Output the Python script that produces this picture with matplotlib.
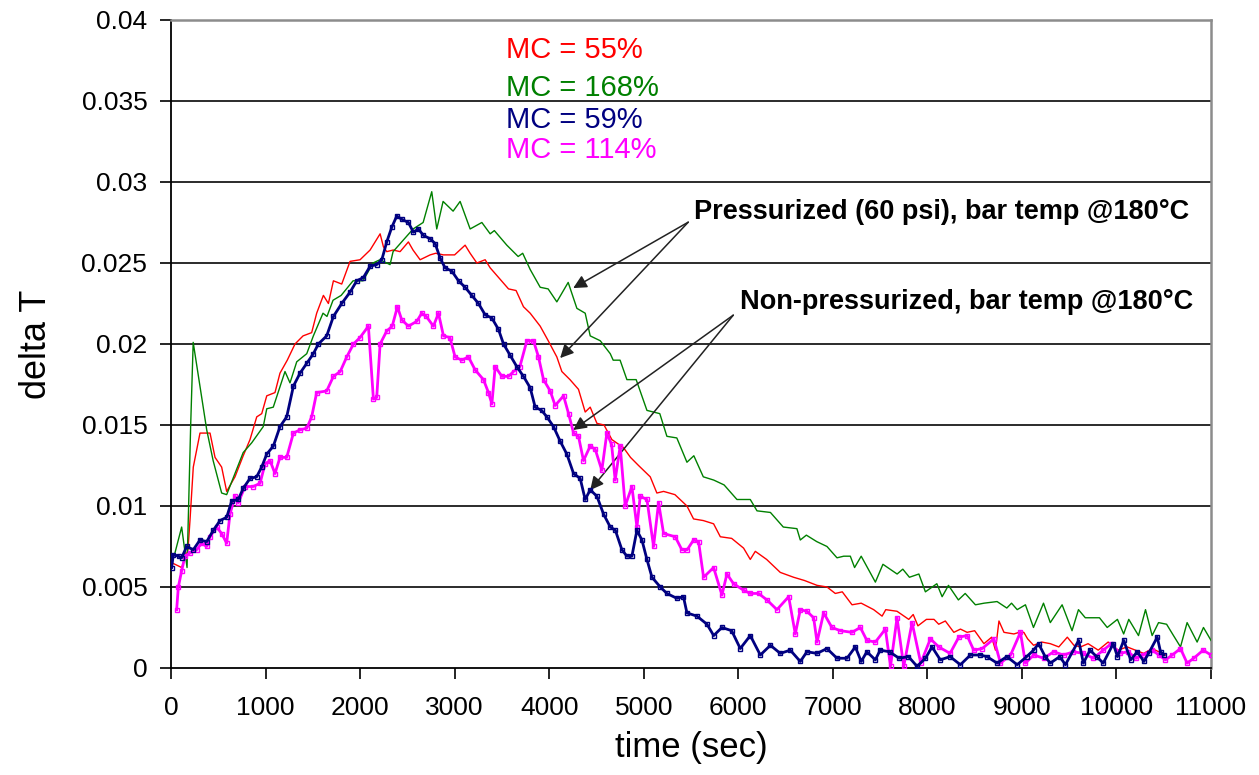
import matplotlib
matplotlib.use("Agg")
import matplotlib.pyplot as plt

plt.rcParams['font.family'] = ['Liberation Sans', 'DejaVu Sans']

# MC = 55% (pressurized)
t_55 = [7, 113, 180, 201, 236, 307, 413, 466, 536, 589, 677, 764, 836, 907, 960,
        1013, 1100, 1153, 1230, 1312, 1397, 1488, 1541, 1612, 1665, 1718, 1806, 1894,
        2000, 2106, 2212, 2247, 2282, 2350, 2423, 2511, 2560, 2635, 2741, 2800, 2882,
        3000, 3111, 3164, 3235, 3323, 3376, 3481, 3570, 3650, 3728, 3799, 3905, 3990,
        4081, 4134, 4220, 4310, 4381, 4434, 4505, 4580, 4663, 4786, 4860, 4945, 5069,
        5139, 5210, 5330, 5457, 5527, 5630, 5739, 5810, 5930, 6056, 6127, 6180, 6300,
        6444, 6585, 6700, 6833, 6938, 7026, 7100, 7203, 7300, 7432, 7521, 7560, 7679,
        7803, 7850, 7900, 7990, 8070, 8120, 8190, 8280, 8350, 8420, 8500, 8598, 8680,
        8720, 8757, 8810, 8915, 8970, 9020, 9060, 9123, 9210, 9300, 9390, 9480, 9550,
        9620, 9700, 9807, 9912, 10018, 10112, 10200, 10288, 10377, 10483, 10518]
v_55 = [0.0065, 0.0062, 0.0073, 0.0091, 0.0124, 0.0145, 0.0145, 0.0130, 0.0124, 0.0109,
        0.0118, 0.0131, 0.0141, 0.0155, 0.0157, 0.0168, 0.0170, 0.0182, 0.0190, 0.0200,
        0.0205, 0.0207, 0.0219, 0.0230, 0.0225, 0.0239, 0.0237, 0.0251, 0.0252, 0.0258,
        0.0268, 0.0260, 0.0257, 0.0258, 0.0257, 0.0263, 0.0258, 0.0252, 0.0255, 0.0256,
        0.0255, 0.0255, 0.0261, 0.0256, 0.0250, 0.0252, 0.0247, 0.0240, 0.0234, 0.0233,
        0.0223, 0.0219, 0.0211, 0.0202, 0.0192, 0.0183, 0.0178, 0.0172, 0.0158, 0.0161,
        0.0151, 0.0150, 0.0141, 0.0136, 0.0130, 0.0125, 0.0118, 0.0108, 0.0109, 0.0107,
        0.0100, 0.0092, 0.0091, 0.0089, 0.0081, 0.0080, 0.0074, 0.0067, 0.0072, 0.0067,
        0.0059, 0.0056, 0.0054, 0.0051, 0.0050, 0.0046, 0.0047, 0.0039, 0.0040, 0.0036,
        0.0032, 0.0036, 0.0035, 0.0030, 0.0033, 0.0026, 0.0030, 0.0030, 0.0027, 0.0029,
        0.0022, 0.0024, 0.0022, 0.0023, 0.0015, 0.0019, 0.0011, 0.0029, 0.0022, 0.0021,
        0.0022, 0.0022, 0.0018, 0.0014, 0.0016, 0.0015, 0.0013, 0.0019, 0.0014, 0.0013,
        0.0015, 0.0011, 0.0016, 0.0011, 0.0013, 0.0011, 0.0009, 0.0012, 0.0009, 0.0008]

# MC = 168% (pressurized)
t_168 = [42, 113, 170, 208, 235, 378, 446, 536, 589, 764, 854, 976, 1013, 1082, 1206,
         1259, 1330, 1436, 1506, 1608, 1650, 1714, 1800, 1926, 2032, 2137, 2210, 2317,
         2349, 2455, 2561, 2667, 2758, 2811, 2878, 2984, 3058, 3164, 3288, 3376, 3420,
         3552, 3672, 3720, 3799, 3905, 3989, 4081, 4201, 4293, 4381, 4434, 4540, 4646,
         4677, 4750, 4822, 4920, 5034, 5170, 5245, 5350, 5457, 5530, 5630, 5740, 5850,
         5986, 6127, 6198, 6340, 6476, 6620, 6656, 6720, 6830, 6938, 7044, 7115, 7185,
         7230, 7300, 7450, 7530, 7680, 7740, 7810, 7910, 7979, 8100, 8156, 8223, 8328,
         8400, 8508, 8600, 8737, 8840, 8890, 8950, 9037, 9122, 9228, 9300, 9425, 9530,
         9598, 9670, 9820, 9902, 10010, 10076, 10130, 10233, 10307, 10377, 10445, 10530,
         10603, 10677, 10747, 10853, 10920, 11000]
v_168 = [0.0071, 0.0087, 0.0062, 0.0149, 0.0201, 0.0147, 0.0128, 0.0108, 0.0107, 0.0133,
         0.0139, 0.0149, 0.0160, 0.0161, 0.0183, 0.0176, 0.0189, 0.0194, 0.0205, 0.0219,
         0.0217, 0.0227, 0.0230, 0.0239, 0.0239, 0.0250, 0.0252, 0.0249, 0.0257, 0.0264,
         0.0271, 0.0275, 0.0294, 0.0271, 0.0288, 0.0282, 0.0288, 0.0271, 0.0275, 0.0268,
         0.0270, 0.0261, 0.0254, 0.0256, 0.0246, 0.0235, 0.0234, 0.0226, 0.0238, 0.0222,
         0.0219, 0.0205, 0.0202, 0.0194, 0.0190, 0.0190, 0.0178, 0.0178, 0.0159, 0.0157,
         0.0143, 0.0142, 0.0127, 0.0131, 0.0118, 0.0116, 0.0113, 0.0104, 0.0104, 0.0097,
         0.0096, 0.0087, 0.0086, 0.0079, 0.0082, 0.0078, 0.0075, 0.0068, 0.0069, 0.0069,
         0.0062, 0.0069, 0.0053, 0.0064, 0.0058, 0.0061, 0.0056, 0.0058, 0.0047, 0.0052,
         0.0044, 0.0051, 0.0042, 0.0046, 0.0039, 0.0040, 0.0041, 0.0037, 0.0040, 0.0036,
         0.0039, 0.0025, 0.0040, 0.0028, 0.0039, 0.0023, 0.0036, 0.0031, 0.0031, 0.0025,
         0.0030, 0.0021, 0.0030, 0.0020, 0.0036, 0.0020, 0.0028, 0.0027, 0.0020, 0.0013,
         0.0028, 0.0016, 0.0025, 0.0017]

# MC = 59% (non-pressurized)
t_59 = [7, 25, 80, 113, 166, 236, 307, 378, 448, 519, 589, 642, 712, 765, 836, 906, 959,
        1013, 1083, 1153, 1224, 1295, 1365, 1436, 1506, 1559, 1647, 1718, 1806, 1894,
        1965, 2035, 2106, 2176, 2230, 2282, 2335, 2388, 2440, 2511, 2564, 2617, 2670,
        2740, 2794, 2847, 2899, 2970, 3041, 3111, 3182, 3252, 3323, 3394, 3464, 3517,
        3587, 3658, 3728, 3799, 3852, 3920, 3976, 4046, 4116, 4187, 4258, 4328, 4381,
        4434, 4505, 4575, 4646, 4700, 4769, 4822, 4875, 4928, 4981, 5034, 5087, 5175,
        5245, 5350, 5420, 5457, 5563, 5669, 5740, 5827, 5930, 6021, 6127, 6233, 6340,
        6444, 6550, 6656, 6726, 6833, 6938, 7044, 7150, 7238, 7300, 7360, 7450, 7500,
        7600, 7700, 7800, 7891, 7980, 8049, 8137, 8240, 8349, 8455, 8560, 8630, 8737,
        8840, 8950, 9050, 9123, 9176, 9246, 9300, 9400, 9460, 9600, 9650, 9720, 9790,
        9860, 9966, 10010, 10077, 10150, 10220, 10290, 10340, 10431, 10466, 10501]
v_59 = [0.0062, 0.0070, 0.0069, 0.0068, 0.0075, 0.0073, 0.0079, 0.0078, 0.0085, 0.0091,
        0.0093, 0.0103, 0.0104, 0.0111, 0.0117, 0.0118, 0.0124, 0.0132, 0.0137, 0.0149,
        0.0155, 0.0174, 0.0182, 0.0188, 0.0194, 0.0200, 0.0205, 0.0217, 0.0225, 0.0232,
        0.0239, 0.0241, 0.0248, 0.0249, 0.0252, 0.0263, 0.0272, 0.0279, 0.0277, 0.0275,
        0.0269, 0.0271, 0.0267, 0.0265, 0.0262, 0.0253, 0.0247, 0.0245, 0.0239, 0.0235,
        0.0230, 0.0225, 0.0218, 0.0216, 0.0209, 0.0200, 0.0193, 0.0186, 0.0180, 0.0173,
        0.0161, 0.0159, 0.0155, 0.0149, 0.0140, 0.0132, 0.0120, 0.0117, 0.0104, 0.0110,
        0.0106, 0.0095, 0.0087, 0.0085, 0.0073, 0.0069, 0.0069, 0.0085, 0.0079, 0.0067,
        0.0056, 0.0050, 0.0046, 0.0043, 0.0044, 0.0034, 0.0032, 0.0027, 0.0020, 0.0025,
        0.0023, 0.0012, 0.0020, 0.0008, 0.0014, 0.0009, 0.0011, 0.0004, 0.0010, 0.0009,
        0.0012, 0.0006, 0.0006, 0.0013, 0.0004, 0.0010, 0.0005, 0.0011, 0.0010, 0.0006,
        0.0007, 0.0001, 0.0006, 0.0013, 0.0005, 0.0007, 0.0002, 0.0008, 0.0008, 0.0007,
        0.0003, 0.0007, 0.0002, 0.0007, 0.0011, 0.0015, 0.0007, 0.0003, 0.0007, 0.0002,
        0.0017, 0.0003, 0.0011, 0.0007, 0.0003, 0.0015, 0.0007, 0.0017, 0.0005, 0.0010,
        0.0004, 0.0009, 0.0019, 0.0010, 0.0008]

# MC = 114% (non-pressurized)
t_114 = [60, 78, 113, 148, 201, 272, 325, 378, 413, 483, 536, 589, 624, 677, 712, 783,
         870, 942, 995, 1048, 1100, 1153, 1224, 1295, 1365, 1436, 1488, 1541, 1647, 1718,
         1790, 1859, 1930, 2000, 2088, 2141, 2176, 2212, 2282, 2340, 2395, 2440, 2511,
         2600, 2652, 2700, 2776, 2829, 2882, 2950, 3005, 3075, 3146, 3217, 3305, 3358,
         3394, 3429, 3500, 3570, 3623, 3690, 3764, 3834, 3887, 3940, 4011, 4063, 4152,
         4205, 4258, 4310, 4363, 4434, 4487, 4557, 4610, 4660, 4698, 4751, 4804, 4875,
         4928, 4963, 5034, 5104, 5157, 5210, 5333, 5403, 5460, 5527, 5580, 5633, 5739,
         5827, 5880, 5950, 6056, 6127, 6215, 6303, 6409, 6533, 6603, 6656, 6726, 6797,
         6833, 6903, 6990, 7080, 7203, 7291, 7360, 7450, 7556, 7610, 7679, 7750, 7838,
         7930, 8032, 8120, 8240, 8332, 8420, 8490, 8580, 8703, 8773, 8880, 8984, 9037,
         9125, 9230, 9336, 9440, 9545, 9650, 9755, 9860, 9945, 10033, 10120, 10210, 10280,
         10377, 10450, 10518, 10590, 10677, 10747, 10817, 10917, 11000]
v_114 = [0.0036, 0.0050, 0.0060, 0.0069, 0.0071, 0.0073, 0.0077, 0.0075, 0.0081, 0.0087,
         0.0083, 0.0077, 0.0095, 0.0106, 0.0102, 0.0112, 0.0112, 0.0114, 0.0126, 0.0128,
         0.0120, 0.0130, 0.0130, 0.0145, 0.0147, 0.0148, 0.0155, 0.0170, 0.0171, 0.0180,
         0.0183, 0.0192, 0.0200, 0.0204, 0.0211, 0.0166, 0.0167, 0.0200, 0.0208, 0.0211,
         0.0223, 0.0215, 0.0211, 0.0214, 0.0219, 0.0217, 0.0211, 0.0219, 0.0205, 0.0204,
         0.0192, 0.0190, 0.0192, 0.0184, 0.0178, 0.0170, 0.0163, 0.0186, 0.0180, 0.0180,
         0.0183, 0.0186, 0.0202, 0.0202, 0.0192, 0.0178, 0.0171, 0.0162, 0.0168, 0.0157,
         0.0145, 0.0143, 0.0128, 0.0137, 0.0135, 0.0122, 0.0145, 0.0138, 0.0116, 0.0137,
         0.0100, 0.0112, 0.0087, 0.0106, 0.0104, 0.0075, 0.0102, 0.0083, 0.0081, 0.0073,
         0.0073, 0.0079, 0.0078, 0.0056, 0.0062, 0.0045, 0.0058, 0.0052, 0.0048, 0.0046,
         0.0046, 0.0042, 0.0036, 0.0044, 0.0021, 0.0036, 0.0035, 0.0031, 0.0016, 0.0034,
         0.0025, 0.0023, 0.0022, 0.0025, 0.0017, 0.0016, 0.0024, 0.0001, 0.0031, 0.0001,
         0.0028, 0.0003, 0.0018, 0.0013, 0.0009, 0.0019, 0.0020, 0.0011, 0.0012, 0.0018,
         0.0003, 0.0008, 0.0022, 0.0003, 0.0008, 0.0006, 0.0010, 0.0008, 0.0010, 0.0009,
         0.0006, 0.0011, 0.0015, 0.0009, 0.0010, 0.0006, 0.0008, 0.0011, 0.0008, 0.0005,
         0.0008, 0.0012, 0.0003, 0.0006, 0.0011, 0.0008]

x_ticks = list(range(0, 11001, 1000))
y_ticks = [0, 0.005, 0.01, 0.015, 0.02, 0.025, 0.03, 0.035, 0.04]
y_tick_labels = ['0', '0.005', '0.01', '0.015', '0.02', '0.025', '0.03', '0.035', '0.04']

mc_labels = ['MC = 55%', 'MC = 168%', 'MC = 59%', 'MC = 114%']
mc_colors = ['#FF0000', '#008000', '#000080', '#FF00FF']

fig = plt.figure(figsize=(12.59, 7.75), dpi=100)
ax = fig.add_axes([0.1358, 0.1381, 0.8261, 0.8361])

# horizontal gridlines
for yv in y_ticks[1:-1]:
    ax.axhline(yv, color='#1a1a1a', lw=1.3, zorder=1)

ax.plot(t_55, v_55, color=mc_colors[0], lw=1.0, zorder=3)
ax.plot(t_168, v_168, color=mc_colors[1], lw=1.0, zorder=3)
ax.plot(t_114, v_114, color=mc_colors[3], lw=2.0, marker='s', ms=2.6,
        mfc='none', mew=1.0, zorder=4)
ax.plot(t_59, v_59, color=mc_colors[2], lw=2.0, marker='s', ms=2.6,
        mfc='none', mew=1.0, zorder=5)

ax.set_xlim(0, 11000)
ax.set_ylim(0, 0.04)
ax.set_xticks(x_ticks)
ax.set_xticklabels([str(x) for x in x_ticks])
ax.set_yticks(y_ticks)
ax.set_yticklabels(y_tick_labels)
ax.tick_params(axis='both', direction='out', length=8, width=1.2, labelsize=19,
               colors='black')
ax.tick_params(axis='y', pad=9)
ax.tick_params(axis='x', pad=12)

for side in ['left', 'bottom']:
    ax.spines[side].set_color('black')
    ax.spines[side].set_linewidth(1.3)
for side in ['top', 'right']:
    ax.spines[side].set_color('#8c8c8c')
    ax.spines[side].set_linewidth(1.8)

ax.set_xlabel('time (sec)', fontsize=25, labelpad=8)
ax.set_ylabel('delta T', fontsize=26, labelpad=20)

# series labels
mc_y = [0.03813, 0.03579, 0.03381, 0.03196]
for lab, col, yy in zip(mc_labels, mc_colors, mc_y):
    ax.text(3540, yy, lab, color=col, fontsize=21, va='center', ha='left')

arrow_kw = dict(arrowstyle='-|>', color='#222222', lw=1.1, mutation_scale=20,
                shrinkA=0, shrinkB=0)

ax.text(5534, 0.02813, 'Pressurized (60 psi), bar temp @180\u00b0C', fontsize=19.5,
        fontweight='bold', va='center', ha='left')
for xy in [(4254, 0.02345), (4116, 0.01913)]:
    ax.annotate('', xy=xy, xytext=(5471, 0.02752), arrowprops=arrow_kw)

ax.text(6021, 0.02258, 'Non-pressurized, bar temp @180\u00b0C', fontsize=19.5,
        fontweight='bold', va='center', ha='left')
for xy in [(4254, 0.01469), (4434, 0.01098)]:
    ax.annotate('', xy=xy, xytext=(5947, 0.02178), arrowprops=arrow_kw)

fig.savefig('out.png', dpi=100)
